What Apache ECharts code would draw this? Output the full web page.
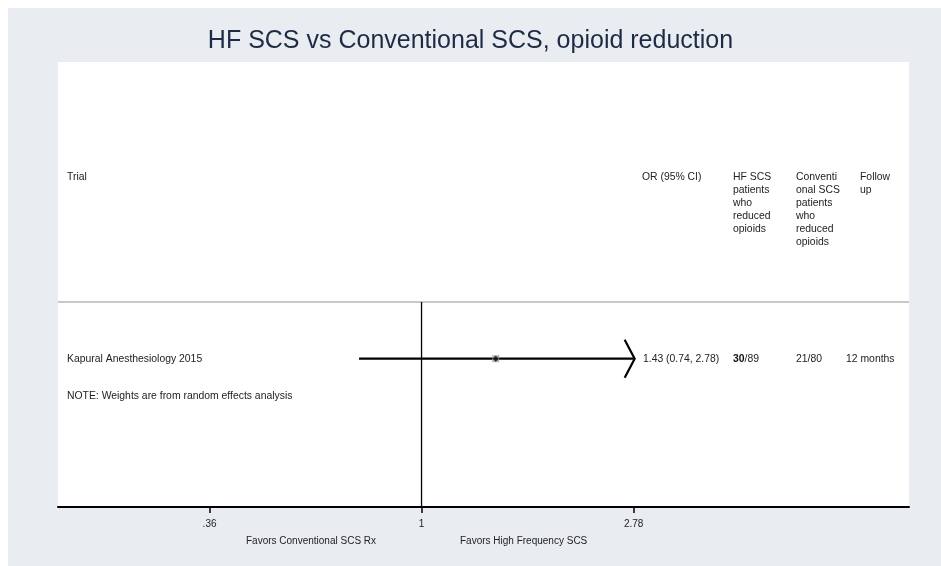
<!DOCTYPE html>
<html>
<head>
<meta charset="utf-8">
<script src="https://cdn.jsdelivr.net/npm/echarts@6/dist/echarts.min.js"></script>
<style>
  html, body { margin: 0; padding: 0; background: #fff; }
  #chart { width: 941px; height: 566px; }
</style>
</head>
<body>
<div id="chart"></div>
<script>
// study data
const trials = ['Kapural Anesthesiology 2015'];
const oddsRatio = [1.43];
const ciLow = [0.74];
const ciHigh = [2.78];
const ciText = ['1.43 (0.74, 2.78)'];
const hfReducedN = ['30'];
const hfTotal = ['89'];
const convReduced = ['21/80'];
const followUp = ['12 months'];

// axis
const tickValues = [0.36, 1, 2.78];
const tickLabels = ['.36', '1', '2.78'];
const axisMinOR = 0.1734;
const axisMaxOR = 10.48;

// text
const titleText = 'HF SCS vs Conventional SCS, opioid reduction';
const headers = ['Trial', 'OR (95% CI)', 'HF SCS\npatients\nwho\nreduced\nopioids',
  'Conventi\nonal SCS\npatients\nwho\nreduced\nopioids', 'Follow\nup'];
const noteText = 'NOTE: Weights are from random effects analysis';
const favorsLeft = 'Favors Conventional SCS Rx';
const favorsRight = 'Favors High Frequency SCS';

const FONT = '"Liberation Sans", Arial, sans-serif';
const TXT = '10.4px ' + FONT;
const ROW0 = 8;       // y of first study row (axis units)
const SEP_Y = 6.47;   // header separator
const Y_MAX = 12;

const lnMin = Math.log(axisMinOR), lnMax = Math.log(axisMaxOR);
const rowY = trials.map((t, i) => ROW0 + i);
const noteY = ROW0 + trials.length;
const clipMax = tickValues[tickValues.length - 1];

const ciData = trials.map((t, i) => [
  Math.log(ciLow[i]), Math.log(Math.min(ciHigh[i], clipMax)), rowY[i], ciHigh[i] >= clipMax ? 1 : 0
]);
const pointData = trials.map((t, i) => [Math.log(oddsRatio[i]), rowY[i]]);

const chart = echarts.init(document.getElementById('chart'), null, { renderer: 'canvas' });

const option = {
  backgroundColor: '#fff',
  animation: false,
  title: {
    text: titleText,
    left: 'center',
    top: 24,
    textStyle: { fontFamily: FONT, fontSize: 25, fontWeight: 'normal', color: '#1e2b45' }
  },
  grid: { left: 58, right: 32, top: 62, bottom: 59 },
  xAxis: {
    type: 'value',
    position: 'bottom',
    min: lnMin,
    max: lnMax,
    splitLine: { show: false },
    axisLine: { show: true, onZero: false, lineStyle: { color: '#000', width: 2 } },
    axisTick: { show: true, length: 6, customValues: tickValues.map(Math.log), lineStyle: { color: '#000', width: 1.5 } },
    axisLabel: {
      customValues: tickValues.map(Math.log),
      margin: 12,
      fontFamily: FONT,
      fontSize: 10,
      color: '#222',
      formatter: (v) => {
        let best = 0;
        tickValues.forEach((t, i) => {
          if (Math.abs(Math.log(t) - v) < Math.abs(Math.log(tickValues[best]) - v)) best = i;
        });
        return tickLabels[best];
      }
    }
  },
  yAxis: { type: 'value', inverse: true, min: 0, max: Y_MAX, show: false },
  series: [
    {
      type: 'line',
      data: [[lnMin, SEP_Y], [lnMax, SEP_Y]],
      symbol: 'none',
      lineStyle: { color: '#c8c8c8', width: 2 },
      z: 1
    },
    {
      type: 'line',
      data: [[0, SEP_Y], [0, Y_MAX]],
      symbol: 'none',
      lineStyle: { color: '#000', width: 1.3 },
      z: 2
    },
    {
      type: 'custom',
      data: ciData,
      encode: { x: [0, 1], y: 2 },
      z: 3,
      renderItem: (params, api) => {
        const lo = api.coord([api.value(0), api.value(2)]);
        const hi = api.coord([api.value(1), api.value(2)]);
        const children = [{
          type: 'line',
          shape: { x1: lo[0], y1: lo[1], x2: hi[0], y2: hi[1] },
          style: { stroke: '#000', lineWidth: 2.2 }
        }];
        if (api.value(3)) {
          children.push({
            type: 'polyline',
            shape: { points: [[hi[0] - 9, hi[1] - 19], [hi[0] + 1, hi[1]], [hi[0] - 9, hi[1] + 19]] },
            style: { stroke: '#000', fill: null, lineWidth: 2.2 }
          });
        }
        return { type: 'group', children };
      }
    },
    {
      type: 'scatter',
      data: pointData,
      symbol: 'rect',
      symbolSize: 7,
      itemStyle: { color: '#a0a0a0' },
      z: 4
    },
    {
      type: 'scatter',
      data: pointData,
      symbol: 'diamond',
      symbolSize: 6,
      itemStyle: { color: '#000' },
      z: 5
    }
  ]
};

chart.setOption(option);

// text blocks positioned on the same y scale as the marks
const yPx = (v) => chart.convertToPixel({ xAxisIndex: 0, yAxisIndex: 0 }, [0, v])[1];

const headerX = [67, 642, 733, 796, 860];
const colX = [67, 643, 733, 796, 846];
const graphics = [
  { type: 'rect', shape: { x: 8, y: 8, width: 941, height: 566 }, style: { fill: '#e9edf1' }, z: -10, silent: true },
  { type: 'rect', shape: { x: 58, y: 62, width: 851, height: 445 }, style: { fill: '#ffffff' }, z: -9, silent: true }
];
headers.forEach((h, i) => {
  graphics.push({ type: 'text', x: headerX[i], y: 171, silent: true,
    style: { text: h, fill: '#222', font: TXT, lineHeight: 13 } });
});
trials.forEach((t, i) => {
  const y = yPx(rowY[i]);
  [t, ciText[i], null, convReduced[i], followUp[i]].forEach((s, j) => {
    if (s === null) {
      graphics.push({ type: 'text', x: colX[j], y: y, silent: true,
        style: {
          text: '{b|' + hfReducedN[i] + '}/' + hfTotal[i],
          fill: '#222', font: TXT, verticalAlign: 'middle',
          rich: { b: { fontWeight: 'bold', fontSize: 10.4, fontFamily: FONT, fill: '#111' } }
        } });
      return;
    }
    graphics.push({ type: 'text', x: colX[j], y: y, silent: true,
      style: { text: s, fill: '#222', font: TXT, verticalAlign: 'middle' } });
  });
});
graphics.push({ type: 'text', x: 67, y: yPx(noteY), silent: true,
  style: { text: noteText, fill: '#222', font: TXT, verticalAlign: 'middle' } });
graphics.push({ type: 'text', x: 246, y: 541, silent: true,
  style: { text: favorsLeft, fill: '#222', font: '10px ' + FONT, verticalAlign: 'middle' } });
graphics.push({ type: 'text', x: 460, y: 541, silent: true,
  style: { text: favorsRight, fill: '#222', font: '10px ' + FONT, verticalAlign: 'middle' } });

chart.setOption({ graphic: { elements: graphics } });
</script>
</body>
</html>
